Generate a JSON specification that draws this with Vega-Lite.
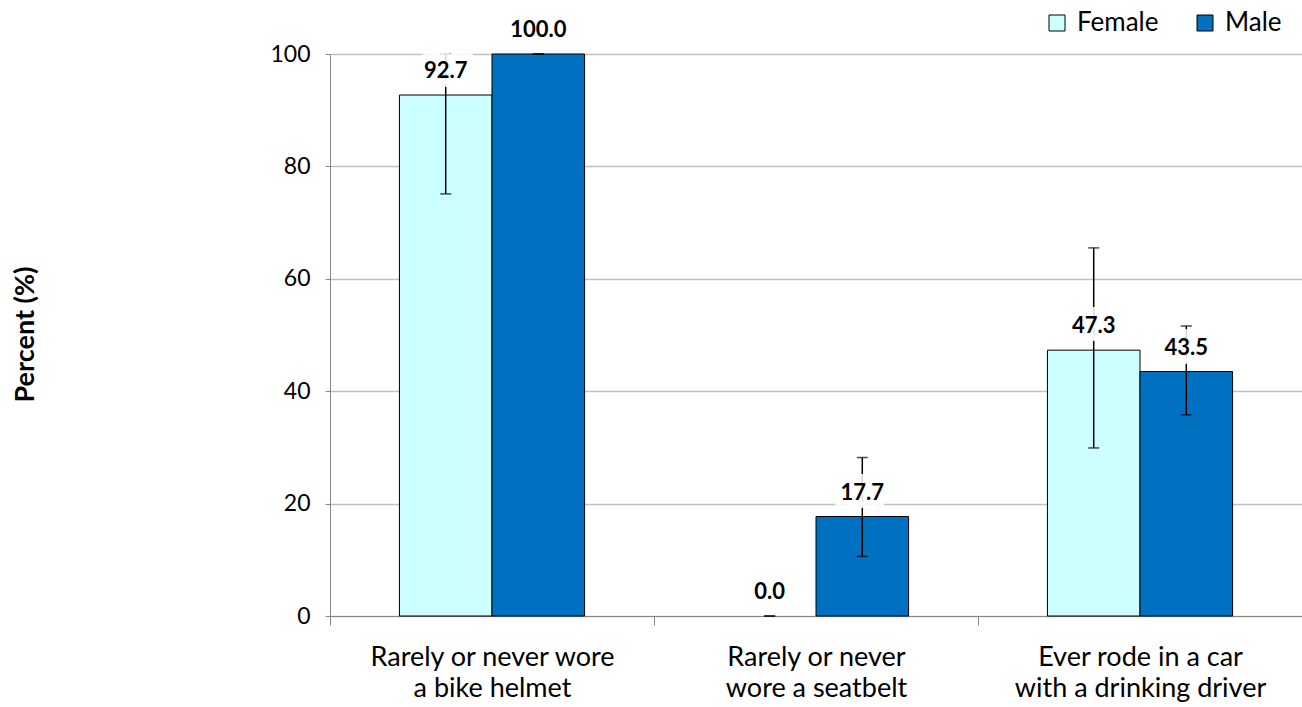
{
  "$schema": "https://vega.github.io/schema/vega-lite/v6.json",
  "width": 972,
  "height": 562,
  "autosize": "none",
  "padding": {"left": 330, "top": 54, "right": 0, "bottom": 91},
  "background": "white",
  "config": {"view": {"stroke": null}, "font": "Lato"},
  "data": {"values": [
    {"category": "Rarely or never wore|a bike helmet", "gender": "Female", "value": 92.7, "lo": 75.1, "hi": 100},
    {"category": "Rarely or never wore|a bike helmet", "gender": "Male", "value": 100.0, "lo": 100, "hi": 100},
    {"category": "Rarely or never|wore a seatbelt", "gender": "Female", "value": 0.0, "lo": 0, "hi": 0},
    {"category": "Rarely or never|wore a seatbelt", "gender": "Male", "value": 17.7, "lo": 10.6, "hi": 28.2},
    {"category": "Ever rode in a car|with a drinking driver", "gender": "Female", "value": 47.3, "lo": 29.9, "hi": 65.5},
    {"category": "Ever rode in a car|with a drinking driver", "gender": "Male", "value": 43.5, "lo": 35.8, "hi": 51.6}
  ]},
  "encoding": {
    "x": {
      "field": "category", "type": "nominal", "sort": null,
      "scale": {"paddingInner": 0, "paddingOuter": 0},
      "axis": {
        "title": null, "labelAngle": 0, "labelExpr": "split(datum.label, '|')",
        "labelFontSize": 27, "labelColor": "black", "labelLineHeight": 31, "labelLimit": 400,
        "labelBaseline": "top", "labelPadding": 19,
        "tickBand": "extent", "tickSize": 9, "tickColor": "#868686",
        "domainColor": "#868686", "grid": false
      }
    },
    "xOffset": {"field": "gender", "type": "nominal", "scale": {"paddingInner": 0, "paddingOuter": 0.75}}
  },
  "layer": [
    {
      "mark": {"type": "bar", "stroke": "black", "strokeWidth": 1},
      "encoding": {
        "y": {
          "field": "value", "type": "quantitative",
          "scale": {"domain": [0, 100]},
          "axis": {
            "values": [0, 20, 40, 60, 80, 100], "title": "Percent (%)",
            "titleFontSize": 27, "titleFontWeight": "bold", "titleColor": "black",
            "titleAngle": 270, "titleX": -305, "titleY": 280, "titleAlign": "center", "titleBaseline": "middle",
            "labelFontSize": 23, "labelColor": "black", "labelPadding": 15,
            "tickSize": 5, "tickColor": "#868686", "domainColor": "#868686",
            "gridColor": "#C0C0C0", "gridWidth": 1.3
          }
        },
        "strokeOpacity": {"condition": {"test": "datum.value === 0", "value": 0}, "value": 1},
        "fill": {
          "field": "gender", "type": "nominal",
          "scale": {"domain": ["Female", "Male"], "range": ["#CCFFFF", "#0070C0"]},
          "legend": {
            "title": null, "orient": "none", "direction": "horizontal",
            "legendX": 714, "legendY": -44,
            "symbolType": "square", "symbolSize": 256, "symbolStrokeColor": "black", "symbolStrokeWidth": 1,
            "labelFontSize": 26, "labelColor": "black", "labelOffset": 7, "columnPadding": 33
          }
        }
      }
    },
    {
      "mark": {"type": "rule", "color": "black", "strokeWidth": 1.5},
      "encoding": {
        "y": {"field": "lo", "type": "quantitative"},
        "y2": {"field": "hi"}
      }
    },
    {
      "mark": {"type": "tick", "color": "black", "thickness": 1.5, "size": 11},
      "encoding": {"y": {"field": "lo", "type": "quantitative"}}
    },
    {
      "mark": {"type": "tick", "color": "black", "thickness": 1.5, "size": 11},
      "encoding": {"y": {"field": "hi", "type": "quantitative"}}
    },
    {
      "mark": {"type": "text", "fontSize": 22, "fontWeight": "bold", "baseline": "middle", "dy": -24, "stroke": "white", "strokeWidth": 18, "strokeOpacity": 0.85, "fill": "white", "strokeJoin": "round"},
      "encoding": {
        "y": {"field": "value", "type": "quantitative"},
        "text": {"field": "value", "type": "quantitative", "format": ".1f"}
      }
    },
    {
      "mark": {"type": "text", "fontSize": 22, "fontWeight": "bold", "baseline": "middle", "dy": -24, "color": "black"},
      "encoding": {
        "y": {"field": "value", "type": "quantitative"},
        "text": {"field": "value", "type": "quantitative", "format": ".1f"}
      }
    }
  ]
}
